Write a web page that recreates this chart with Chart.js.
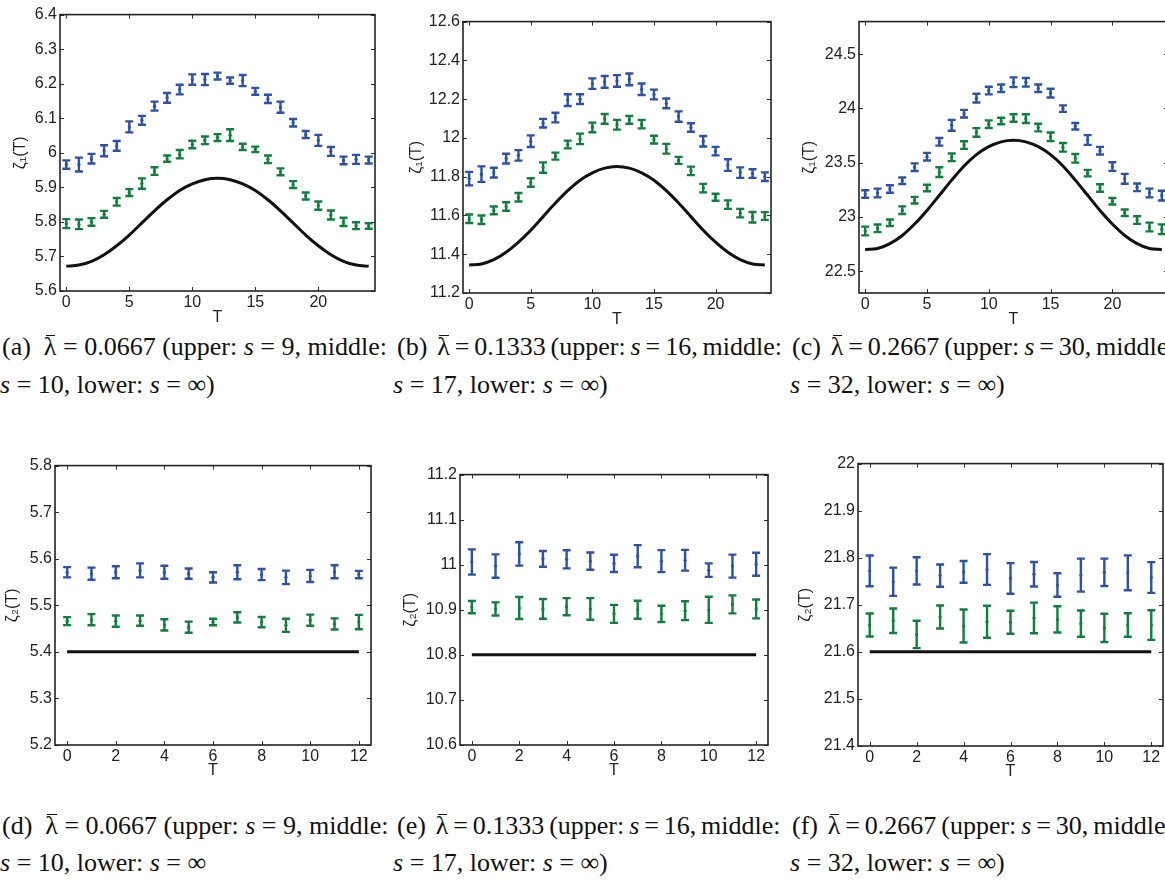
<!DOCTYPE html>
<html>
<head>
<meta charset="utf-8">
<script src="https://cdn.jsdelivr.net/npm/chart.js@4.4.1/dist/chart.umd.min.js"></script>
<style>
  body { margin: 0; width: 1165px; height: 884px; overflow: hidden; background: #fff; position: relative; }
  canvas { position: absolute; }
  .cap { position: absolute; font-family: "Liberation Serif", "Times New Roman", serif; font-size: 26px; line-height: 26px; white-space: pre; color: #111; }
  .tight { word-spacing: -1.6px; }
  .lb { position: relative; display: inline-block; }
  .lb::after { content: ""; position: absolute; left: 2px; right: 1px; top: 1px; border-top: 1.4px solid #111; }
</style>
</head>
<body>
<div class="cap" style="left:2px;top:334px">(a)  <span class="lb">λ</span> = 0.0667 (upper: <i>s</i> = 9, middle:</div>
<div class="cap" style="left:0px;top:372px"><i>s</i> = 10, lower: <i>s</i> = ∞)</div>
<div class="cap tight" style="left:397px;top:334px">(b)  <span class="lb">λ</span> = 0.1333 (upper: <i>s</i> = 16, middle:</div>
<div class="cap" style="left:393px;top:372px"><i>s</i> = 17, lower: <i>s</i> = ∞)</div>
<div class="cap tight" style="left:792px;top:334px">(c)  <span class="lb">λ</span> = 0.2667 (upper: <i>s</i> = 30, middle:</div>
<div class="cap" style="left:790px;top:372px"><i>s</i> = 32, lower: <i>s</i> = ∞)</div>
<div class="cap" style="left:2px;top:813px">(d)  <span class="lb">λ</span> = 0.0667 (upper: <i>s</i> = 9, middle:</div>
<div class="cap" style="left:0px;top:850px"><i>s</i> = 10, lower: <i>s</i> = ∞</div>
<div class="cap tight" style="left:397px;top:813px">(e)  <span class="lb">λ</span> = 0.1333 (upper: <i>s</i> = 16, middle:</div>
<div class="cap" style="left:393px;top:850px"><i>s</i> = 17, lower: <i>s</i> = ∞)</div>
<div class="cap tight" style="left:792px;top:813px">(f)  <span class="lb">λ</span> = 0.2667 (upper: <i>s</i> = 30, middle:</div>
<div class="cap" style="left:790px;top:850px"><i>s</i> = 32, lower: <i>s</i> = ∞)</div>

<script>
// T values and tick labels
const tTop = [0,1,2,3,4,5,6,7,8,9,10,11,12,13,14,15,16,17,18,19,20,21,22,23,24];
const tBottom = [0,1,2,3,4,5,6,7,8,9,10,11,12];
const xTicksTop = [0,5,10,15,20];
const xTicksBottom = [0,2,4,6,8,10,12];

const yTicksA = [5.6,5.7,5.8,5.9,6.0,6.1,6.2,6.3,6.4];
const yTicksB = [11.2,11.4,11.6,11.8,12.0,12.2,12.4,12.6];
const yTicksC = [22.5,23,23.5,24,24.5];
const yTicksD = [5.2,5.3,5.4,5.5,5.6,5.7,5.8];
const yTicksE = [10.6,10.7,10.8,10.9,11.0,11.1,11.2];
const yTicksF = [21.4,21.5,21.6,21.7,21.8,21.9,22.0];

// (a) lambda = 0.0667
const aUpper = [5.966,5.966,5.983,6.006,6.02,6.075,6.094,6.135,6.159,6.183,6.212,6.212,6.222,6.209,6.209,6.178,6.156,6.132,6.087,6.053,6.036,6.004,5.978,5.981,5.979];
const aUpperErr = [0.012,0.02,0.014,0.016,0.014,0.016,0.013,0.013,0.014,0.014,0.015,0.016,0.01,0.009,0.016,0.01,0.012,0.016,0.011,0.01,0.016,0.013,0.011,0.013,0.01];
const aMiddle = [5.795,5.793,5.80,5.822,5.858,5.885,5.911,5.947,5.983,5.996,6.024,6.036,6.044,6.051,6.017,6.01,5.981,5.945,5.908,5.875,5.847,5.82,5.80,5.789,5.788];
const aMiddleErr = [0.013,0.014,0.011,0.01,0.011,0.01,0.015,0.011,0.009,0.012,0.011,0.011,0.01,0.017,0.009,0.008,0.011,0.01,0.01,0.01,0.012,0.013,0.012,0.01,0.008];
const aLower = [5.672,5.675,5.686,5.705,5.731,5.762,5.797,5.832,5.864,5.891,5.910,5.922,5.926,5.922,5.910,5.891,5.864,5.832,5.797,5.762,5.731,5.705,5.686,5.675,5.672];

// (b) lambda = 0.1333
const bUpper = [11.79,11.813,11.821,11.893,11.91,11.983,12.076,12.105,12.195,12.20,12.28,12.289,12.294,12.302,12.251,12.224,12.178,12.11,12.054,11.983,11.932,11.86,11.821,11.816,11.80];
const bUpperErr = [0.035,0.04,0.025,0.025,0.027,0.03,0.022,0.025,0.03,0.025,0.027,0.03,0.03,0.03,0.03,0.025,0.025,0.027,0.022,0.027,0.022,0.03,0.027,0.022,0.022];
const bMiddle = [11.583,11.578,11.626,11.646,11.694,11.77,11.847,11.906,11.966,11.995,12.054,12.098,12.068,12.093,12.071,11.991,11.944,11.884,11.83,11.741,11.694,11.656,11.612,11.591,11.597];
const bMiddleErr = [0.022,0.022,0.02,0.022,0.022,0.022,0.027,0.018,0.02,0.027,0.025,0.025,0.025,0.02,0.022,0.02,0.025,0.018,0.022,0.022,0.018,0.022,0.022,0.027,0.02];
const bLower = [11.345,11.35,11.372,11.41,11.462,11.524,11.594,11.664,11.728,11.782,11.82,11.844,11.852,11.844,11.82,11.782,11.728,11.664,11.594,11.524,11.462,11.41,11.372,11.35,11.345];

// (c) lambda = 0.2667
const cUpper = [23.212,23.221,23.258,23.334,23.459,23.556,23.693,23.845,23.952,24.095,24.165,24.186,24.241,24.241,24.186,24.141,23.998,23.836,23.709,23.611,23.465,23.352,23.273,23.221,23.197];
const cUpperErr = [0.035,0.04,0.035,0.03,0.035,0.035,0.035,0.05,0.035,0.04,0.035,0.035,0.045,0.04,0.035,0.04,0.03,0.03,0.045,0.035,0.04,0.045,0.035,0.04,0.045];
const cMiddle = [22.871,22.896,22.947,23.063,23.155,23.267,23.413,23.55,23.663,23.779,23.855,23.885,23.912,23.906,23.824,23.739,23.642,23.541,23.404,23.267,23.145,23.039,22.972,22.908,22.887];
const cMiddleErr = [0.04,0.035,0.03,0.035,0.03,0.03,0.045,0.035,0.035,0.04,0.035,0.03,0.035,0.04,0.035,0.04,0.04,0.04,0.03,0.035,0.03,0.03,0.035,0.04,0.045];
const cLower = [22.70,22.71,22.755,22.83,22.935,23.06,23.2,23.34,23.47,23.575,23.648,23.692,23.706,23.692,23.648,23.575,23.47,23.34,23.2,23.06,22.935,22.83,22.755,22.71,22.70];

// (d)
const dUpper = [5.571,5.568,5.571,5.575,5.571,5.568,5.56,5.571,5.566,5.56,5.563,5.572,5.566];
const dUpperErr = [0.011,0.013,0.013,0.015,0.014,0.011,0.011,0.015,0.012,0.0145,0.013,0.014,0.008];
const dMiddle = [5.466,5.469,5.466,5.467,5.458,5.453,5.464,5.474,5.464,5.457,5.468,5.46,5.464];
const dMiddleErr = [0.0085,0.012,0.012,0.011,0.012,0.012,0.007,0.011,0.011,0.014,0.012,0.012,0.0155];
const dLower = [5.4,5.4,5.4,5.4,5.4,5.4,5.4,5.4,5.4,5.4,5.4,5.4,5.4];

// (e)
const eUpper = [11.006,10.997,11.024,11.013,11.012,11.008,11.003,11.019,11.008,11.01,10.988,10.997,11.001];
const eUpperErr = [0.028,0.026,0.026,0.0175,0.02,0.019,0.019,0.0245,0.0245,0.023,0.015,0.0255,0.0255];
const eMiddle = [10.906,10.902,10.904,10.902,10.907,10.902,10.891,10.9,10.891,10.898,10.9,10.912,10.902];
const eMiddleErr = [0.0135,0.0145,0.0245,0.022,0.019,0.024,0.02,0.02,0.018,0.021,0.029,0.02,0.021];
const eLower = [10.8,10.8,10.8,10.8,10.8,10.8,10.8,10.8,10.8,10.8,10.8,10.8,10.8];

// (f)
const fUpper = [21.772,21.749,21.772,21.762,21.77,21.775,21.756,21.765,21.742,21.763,21.769,21.768,21.758];
const fUpperErr = [0.0326,0.03,0.029,0.0235,0.023,0.0326,0.0326,0.026,0.025,0.035,0.029,0.037,0.0326];
const fMiddle = [21.657,21.666,21.637,21.674,21.655,21.664,21.663,21.672,21.669,21.66,21.651,21.657,21.657];
const fMiddleErr = [0.0245,0.026,0.029,0.0245,0.035,0.034,0.0245,0.0326,0.028,0.028,0.03,0.025,0.0315];
const fLower = [21.6,21.6,21.6,21.6,21.6,21.6,21.6,21.6,21.6,21.6,21.6,21.6,21.6];

const BLUE = '#2a52a8';
const GREEN = '#0f7f3e';
const tickFont = { family: 'Liberation Sans, Arial, sans-serif', size: 16 };

// error bars with caps, drawn through the scales
const errorBars = {
  id: 'errorBars',
  afterDatasetsDraw(chart) {
    const ctx = chart.ctx, xs = chart.scales.x, ys = chart.scales.y;
    chart.data.datasets.forEach(ds => {
      if (!ds.errs) return;
      ctx.save();
      ctx.strokeStyle = ds.borderColor;
      ctx.lineWidth = 2.4;
      ds.data.forEach((p, i) => {
        const px = xs.getPixelForValue(p.x);
        const hi = ys.getPixelForValue(p.y + ds.errs[i]);
        const lo = ys.getPixelForValue(p.y - ds.errs[i]);
        ctx.beginPath();
        ctx.moveTo(px, hi); ctx.lineTo(px, lo);
        ctx.moveTo(px - 4, hi); ctx.lineTo(px + 4, hi);
        ctx.moveTo(px - 4, lo); ctx.lineTo(px + 4, lo);
        ctx.stroke();
      });
      ctx.restore();
    });
  }
};

// box round the plot with inward ticks on all sides
const frame = {
  id: 'frame',
  afterDraw(chart) {
    const ctx = chart.ctx, a = chart.chartArea, xs = chart.scales.x, ys = chart.scales.y;
    ctx.save();
    ctx.strokeStyle = '#333';
    ctx.lineWidth = 1;
    ctx.beginPath();
    xs.ticks.forEach(t => {
      const px = Math.round(xs.getPixelForValue(t.value)) + 0.5;
      ctx.moveTo(px, a.bottom); ctx.lineTo(px, a.bottom - 4);
      ctx.moveTo(px, a.top); ctx.lineTo(px, a.top + 4);
    });
    ys.ticks.forEach(t => {
      const py = Math.round(ys.getPixelForValue(t.value)) + 0.5;
      ctx.moveTo(a.left, py); ctx.lineTo(a.left + 4, py);
      ctx.moveTo(a.right, py); ctx.lineTo(a.right - 4, py);
    });
    ctx.stroke();
    ctx.strokeStyle = '#222';
    ctx.lineWidth = 1.6;
    ctx.strokeRect(a.left, a.top, a.right - a.left, a.bottom - a.top);
    ctx.restore();
  }
};

const panels = [
  { box: [60, 12, 315, 279], t: tTop, xr: [-0.5, 24.5], xt: xTicksTop, yr: [5.6, 6.4], yt: yTicksA, ytitle: 'ζ₁(T)', tp: 13, tb: 4,
    up: aUpper, upErr: aUpperErr, mid: aMiddle, midErr: aMiddleErr, low: aLower },
  { box: [463, 19, 308, 274], t: tTop, xr: [-0.5, 24.5], xt: xTicksTop, yr: [11.2, 12.6], yt: yTicksB, ytitle: 'ζ₁(T)', tp: 6, tb: 4,
    up: bUpper, upErr: bUpperErr, mid: bMiddle, midErr: bMiddleErr, low: bLower },
  { box: [859, 19, 309, 274], t: tTop, xr: [-0.5, 24.5], xt: xTicksTop, yr: [22.3, 24.8], yt: yTicksC, ytitle: 'ζ₁(T)', tp: 3, tb: 4,
    up: cUpper, upErr: cUpperErr, mid: cMiddle, midErr: cMiddleErr, low: cLower },
  { box: [55, 463, 316, 282], t: tBottom, xr: [-0.5, 12.5], xt: xTicksBottom, yr: [5.2, 5.8], yt: yTicksD, ytitle: 'ζ₂(T)', tp: 10, tb: 5,
    up: dUpper, upErr: dUpperErr, mid: dMiddle, midErr: dMiddleErr, low: dLower },
  { box: [460, 472, 308, 273], t: tBottom, xr: [-0.5, 12.5], xt: xTicksBottom, yr: [10.6, 11.2], yt: yTicksE, ytitle: 'ζ₂(T)', tp: 3, tb: 5,
    up: eUpper, upErr: eUpperErr, mid: eMiddle, midErr: eMiddleErr, low: eLower },
  { box: [858, 461, 305, 285], t: tBottom, xr: [-0.5, 12.5], xt: xTicksBottom, yr: [21.4, 22.0], yt: yTicksF, ytitle: 'ζ₂(T)', tp: 0, tb: 5,
    up: fUpper, upErr: fUpperErr, mid: fMiddle, midErr: fMiddleErr, low: fLower }
];

const YW = 62, XH = 40, PT = 10, PR = 10;

panels.forEach(p => {
  const [l, t, w, h] = p.box;
  const cv = document.createElement('canvas');
  cv.width = YW + w + PR;
  cv.height = PT + h + XH;
  cv.style.left = (l - YW) + 'px';
  cv.style.top = (t - PT) + 'px';
  document.body.appendChild(cv);

  const pts = arr => p.t.map((x, i) => ({ x: x, y: arr[i] }));

  new Chart(cv, {
    type: 'scatter',
    data: {
      datasets: [
        { data: pts(p.low), showLine: true, borderColor: '#111', borderWidth: 3, pointRadius: 0, cubicInterpolationMode: 'monotone' },
        { data: pts(p.up), errs: p.upErr, showLine: false, borderColor: BLUE, backgroundColor: BLUE, pointRadius: 1.6, pointBorderWidth: 0 },
        { data: pts(p.mid), errs: p.midErr, showLine: false, borderColor: GREEN, backgroundColor: GREEN, pointRadius: 1.6, pointBorderWidth: 0 }
      ]
    },
    options: {
      responsive: false,
      animation: false,
      events: [],
      layout: { padding: { top: PT, right: PR, left: 0, bottom: 0 } },
      plugins: { legend: { display: false }, tooltip: { enabled: false } },
      scales: {
        x: {
          type: 'linear', min: p.xr[0], max: p.xr[1],
          grid: { display: false, drawTicks: false }, border: { display: false },
          afterBuildTicks: s => { s.ticks = p.xt.map(v => ({ value: v })); },
          afterFit: s => { s.height = XH; },
          ticks: { padding: 2, font: tickFont, color: '#222', maxRotation: 0, autoSkip: false },
          title: { display: true, text: 'T', font: tickFont, color: '#222', padding: { top: 0, bottom: p.tb } }
        },
        y: {
          type: 'linear', min: p.yr[0], max: p.yr[1],
          grid: { display: false, drawTicks: false }, border: { display: false },
          afterBuildTicks: s => { s.ticks = p.yt.map(v => ({ value: v })); },
          afterFit: s => { s.width = YW; },
          ticks: { padding: 3, font: tickFont, color: '#222', autoSkip: false, callback: v => String(+v.toFixed(2)) },
          title: { display: true, text: p.ytitle, font: tickFont, color: '#222', padding: { top: p.tp, bottom: 0 } }
        }
      }
    },
    plugins: [errorBars, frame]
  });
});
</script>
</body>
</html>
